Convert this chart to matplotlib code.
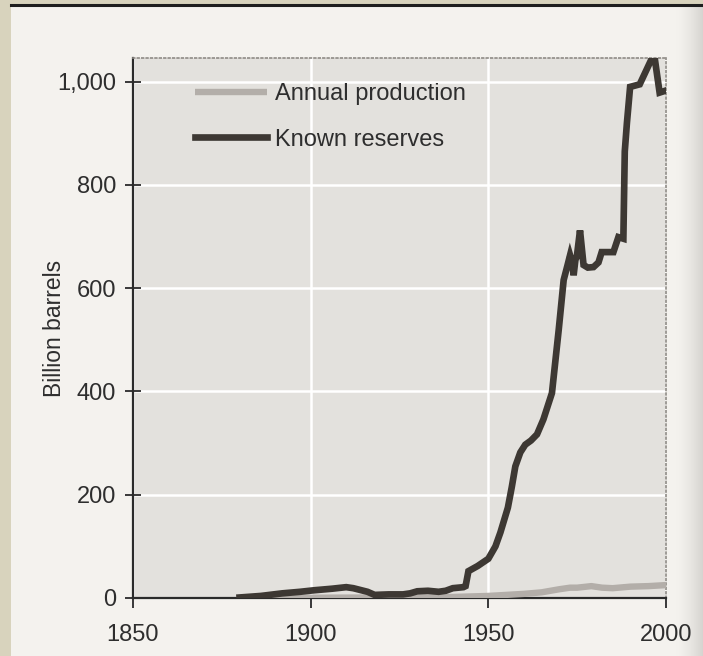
import matplotlib
matplotlib.use("Agg")
import matplotlib.pyplot as plt
import numpy as np
from matplotlib.patches import Rectangle
from matplotlib.lines import Line2D

plt.rcParams['font.family'] = ['Liberation Sans', 'DejaVu Sans']

# Known reserves (billion barrels)
res_years = [1880, 1886, 1892, 1897, 1901, 1906, 1910, 1912, 1916, 1918, 1922, 1926,
             1928, 1930, 1933, 1936, 1938, 1940, 1943, 1943.6, 1944.4, 1947, 1950,
             1952, 1953.4, 1955.5, 1956.6, 1957.6, 1959, 1960.4, 1962, 1963.7, 1965.5,
             1967.9, 1969.8, 1971.2, 1972.3, 1973.0, 1973.6, 1974.0, 1974.5, 1974.9,
             1975.8, 1976.8, 1978, 1979.6, 1981, 1981.9, 1985.2, 1986.6, 1988.0,
             1988.4, 1989.0, 1989.9, 1992.6, 1995.8, 1996.9, 1998.2, 2000]
res_vals = [1, 4, 9, 12, 15, 18, 21, 19, 12, 6, 7, 7,
            9, 13, 14, 12, 14, 19, 21, 23, 52, 62, 76,
            100, 127, 175, 215, 255, 282, 297, 305, 317, 346,
            397, 519, 616, 645, 664, 650, 625, 655, 661,
            712, 645, 640, 641, 650, 670, 670, 699, 696,
            865, 920, 990, 995, 1042, 1042, 979, 983]

# Annual production (billion barrels)
prod_years = [1880, 1900, 1920, 1930, 1940, 1945, 1950, 1955, 1960, 1965, 1970,
              1973, 1975, 1979, 1982, 1985, 1990, 1995, 2000]
prod_vals = [0, 0.5, 1, 1.5, 2, 3, 4, 6, 8, 11, 17,
             20, 20, 23, 20, 19, 22, 23, 25]

x_ticks = [1850, 1900, 1950, 2000]
y_ticks = [0, 200, 400, 600, 800, 1000]
y_labels = ['0', '200', '400', '600', '800', '1,000']

fig = plt.figure(figsize=(7.03, 6.56), dpi=100)
fig.patch.set_facecolor('#f4f2ee')

# right-edge page shadow
sh = fig.add_axes([676/703, 0, 27/703, 1 - 6/656], zorder=-1)
grad = np.linspace(0, 1, 64)[None, :] ** 1.5
sh.imshow(grad, aspect='auto', cmap=matplotlib.colors.LinearSegmentedColormap.from_list(
    'sh', ['#f4f2ee', '#d6d4d0']), extent=[0, 1, 0, 1])
sh.axis('off')

# scanned page border
fig.patches.append(Rectangle((0, 0), 11/703, 1, transform=fig.transFigure,
                             facecolor='#d8d3bd', edgecolor='none', zorder=0))
fig.patches.append(Rectangle((0, 1 - 4/656), 1, 4/656, transform=fig.transFigure,
                             facecolor='#d8d3bd', edgecolor='none', zorder=0))
fig.lines.append(Line2D([11/703, 1], [1 - 5/656, 1 - 5/656], transform=fig.transFigure,
                        color='#1e1e1e', lw=2.2))

ax = fig.add_axes([133/703, 58/656, 533/703, 540/656])
ax.set_facecolor('#e3e1dd')

ax.plot(prod_years, prod_vals, color='#b3aea9', lw=4.6, solid_capstyle='butt',
        label='Annual production', zorder=3)
ax.plot(res_years, res_vals, color='#3d3833', lw=4.8, solid_joinstyle='miter',
        label='Known reserves', zorder=4)

ax.set_xlim(1850, 2000)
ax.set_ylim(0, 1046)
ax.set_xticks(x_ticks)
ax.set_yticks(y_ticks)
ax.set_yticklabels(y_labels)
ax.grid(True, color='white', lw=1.8)
ax.set_axisbelow(True)

for s in ['top', 'right']:
    ax.spines[s].set_color('#8f8b86')
    ax.spines[s].set_linewidth(1.2)
    ax.spines[s].set_linestyle(':')
for s in ['left', 'bottom']:
    ax.spines[s].set_color('#2a2a2a')
    ax.spines[s].set_linewidth(1.6)

ax.tick_params(axis='both', width=1.3, color='#2a2a2a',
               labelsize=17, labelcolor='#2e2e2e')
ax.tick_params(axis='y', direction='inout', length=12, pad=6)
ax.tick_params(axis='x', direction='out', length=7, pad=12)
ax.set_ylabel('Billion barrels', fontsize=16.5, color='#2e2e2e', labelpad=-6.5)

leg = ax.legend(loc='upper left', bbox_to_anchor=(0.117, 0.953), frameon=False,
                fontsize=17, handlelength=3.05, handletextpad=0.32, labelspacing=0.99,
                borderpad=0, borderaxespad=0)
for t in leg.get_texts():
    t.set_color('#2e2e2e')

fig.savefig('out.png', dpi=100, facecolor=fig.get_facecolor())
